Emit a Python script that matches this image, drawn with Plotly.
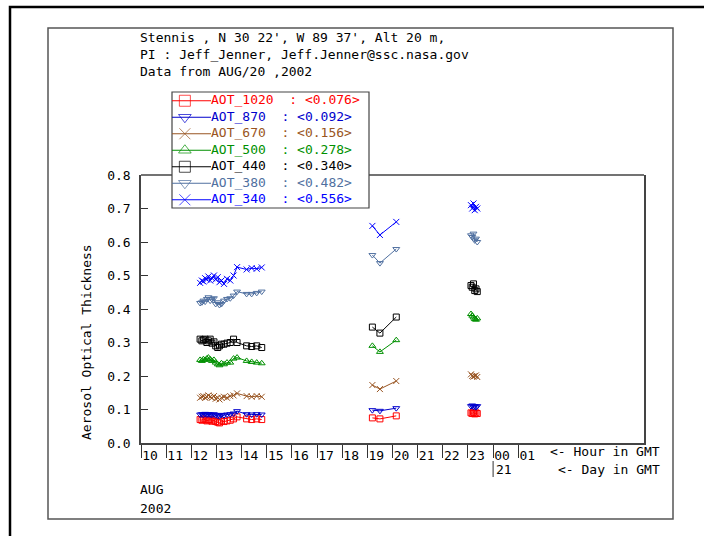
import plotly.graph_objects as go

# ---------------- data ----------------
hours_morning = [12.35, 12.42, 12.48, 12.55, 12.62, 12.68, 12.75, 12.82, 12.90, 12.97, 13.05,
                 13.12, 13.20, 13.30, 13.42, 13.55, 13.68, 13.82, 14.20, 14.40, 14.60, 14.80]
hours_afternoon = [19.20, 19.50, 20.15]
hours_evening = [23.12, 23.17, 23.22, 23.27, 23.32, 23.37]

aot_1020 = [0.070, 0.068, 0.072, 0.070, 0.066, 0.068, 0.070, 0.065, 0.068, 0.064, 0.062,
            0.060, 0.066, 0.064, 0.066, 0.068, 0.072, 0.078, 0.072, 0.070, 0.072, 0.070,
            0.075, 0.072, 0.081,
            0.090, 0.088, 0.092, 0.087, 0.090, 0.088]
aot_870 = [0.085, 0.086, 0.084, 0.087, 0.085, 0.086, 0.085, 0.084, 0.086, 0.083, 0.082,
           0.080, 0.084, 0.083, 0.085, 0.086, 0.088, 0.095, 0.086, 0.085, 0.086, 0.085,
           0.098, 0.096, 0.104,
           0.110, 0.112, 0.108, 0.110, 0.107, 0.110]
aot_670 = [0.135, 0.138, 0.140, 0.135, 0.138, 0.142, 0.138, 0.135, 0.140, 0.132, 0.135,
           0.130, 0.135, 0.138, 0.135, 0.140, 0.142, 0.148, 0.140, 0.138, 0.140, 0.138,
           0.173, 0.161, 0.185,
           0.205, 0.200, 0.198, 0.200, 0.202, 0.197]
aot_500 = [0.248, 0.245, 0.250, 0.248, 0.252, 0.255, 0.250, 0.245, 0.248, 0.240, 0.235,
           0.232, 0.238, 0.235, 0.240, 0.240, 0.252, 0.255, 0.245, 0.242, 0.240, 0.238,
           0.290, 0.272, 0.307,
           0.385, 0.380, 0.375, 0.370, 0.368, 0.372]
aot_440 = [0.310, 0.305, 0.308, 0.310, 0.300, 0.305, 0.310, 0.298, 0.302, 0.290, 0.285,
           0.290, 0.295, 0.295, 0.298, 0.300, 0.310, 0.300, 0.290, 0.288, 0.290, 0.285,
           0.346, 0.328, 0.376,
           0.470, 0.465, 0.475, 0.455, 0.460, 0.452]
aot_380 = [0.418, 0.420, 0.425, 0.422, 0.430, 0.435, 0.425, 0.430, 0.432, 0.415, 0.420,
           0.412, 0.415, 0.425, 0.430, 0.432, 0.440, 0.452, 0.445, 0.445, 0.448, 0.452,
           0.561, 0.537, 0.579,
           0.620, 0.615, 0.625, 0.605, 0.610, 0.600]
aot_340 = [0.478, 0.485, 0.482, 0.492, 0.488, 0.497, 0.485, 0.492, 0.500, 0.488, 0.495,
           0.480, 0.485, 0.475, 0.490, 0.485, 0.500, 0.525, 0.518, 0.522, 0.520, 0.524,
           0.648, 0.621, 0.660,
           0.710, 0.700, 0.715, 0.695, 0.705, 0.700]

series_names = ["AOT_1020", "AOT_870", "AOT_670", "AOT_500", "AOT_440", "AOT_380", "AOT_340"]
series_values = [aot_1020, aot_870, aot_670, aot_500, aot_440, aot_380, aot_340]
series_means = ["0.076", "0.092", "0.156", "0.278", "0.340", "0.482", "0.556"]
series_colors = ["#FF0000", "#0000CC", "#995522", "#009000", "#000000", "#5070A0", "#0000FF"]
series_symbols = ["square-open", "triangle-down-open", "x-thin-open", "triangle-up-open",
                  "square-open", "triangle-down-open", "x-thin-open"]

hour_ticks = list(range(10, 26))
hour_labels = ["10", "11", "12", "13", "14", "15", "16", "17", "18", "19", "20",
               "21", "22", "23", "00", "01"]

title_lines = ["Stennis , N 30 22', W 89 37', Alt 20 m,",
               "PI : Jeff_Jenner, Jeff.Jenner@ssc.nasa.gov",
               "Data from AUG/20 ,2002"]

# ---------------- layout helpers (page pixels -> paper fractions) ----------------
W, H = 704, 536
L, R, T, B = 141, 644, 175, 443
FONT = "DejaVu Sans Mono"
FS = 13
AXC = "#444444"


def px(x):
    return x / W


def py(y):
    return 1 - y / H


def with_gaps(vals):
    n1, n2 = len(hours_morning), len(hours_afternoon)
    return vals[:n1] + [None] + vals[n1:n1 + n2] + [None] + vals[n1 + n2:]


xs = hours_morning + [None] + hours_afternoon + [None] + hours_evening

fig = go.Figure()
for name, vals, col, sym in zip(series_names, series_values, series_colors, series_symbols):
    fig.add_trace(go.Scatter(
        x=xs, y=with_gaps(vals), mode="lines+markers", connectgaps=False, name=name,
        line=dict(color=col, width=1),
        marker=dict(symbol=sym, size=6, color=col, line=dict(color=col, width=1)),
        showlegend=False,
    ))

# ---- legend drawn on its own small axes (rows = series) ----
LEG_L, LEG_R, LEG_T, LEG_B = 172, 369, 92, 208
ROW = 16.5
SAMPLE_R = 211
for name, col, sym in zip(series_names, series_colors, series_symbols):
    fig.add_trace(go.Scatter(
        x=[0, 0.33, 1], y=[name] * 3, xaxis="x2", yaxis="y2", mode="lines+markers",
        line=dict(color=col, width=1),
        marker=dict(symbol=sym, size=[0, 11, 0], color=col, line=dict(color=col, width=1)),
        showlegend=False, hoverinfo="skip", cliponaxis=False,
    ))
legend_labels = [n + "\u00a0\u00a0: <" + m + ">" for n, m in zip(series_names, series_means)]
fig.add_trace(go.Scatter(
    x=[1] * len(series_names), y=series_names, xaxis="x2", yaxis="y2", mode="text",
    text=legend_labels, textposition="middle right",
    textfont=dict(family=FONT, size=FS, color=series_colors),
    showlegend=False, hoverinfo="skip", cliponaxis=False,
))

annotations = []
for i, line in enumerate(title_lines):
    annotations.append(dict(text=line, xref="paper", yref="paper", x=px(138), y=py(37 + 17 * i),
                            xanchor="left", yanchor="middle", showarrow=False))
annotations += [
    dict(text="&lt;- Hour in GMT", xref="paper", yref="paper", x=px(662), y=py(451),
         xanchor="right", yanchor="middle", showarrow=False),
    dict(text="&lt;- Day in GMT", xref="paper", yref="paper", x=px(662), y=py(469),
         xanchor="right", yanchor="middle", showarrow=False),
    dict(text="21", xref="x", yref="paper", x=24, y=py(469), xshift=1,
         xanchor="left", yanchor="middle", showarrow=False),
    dict(text="AUG", xref="paper", yref="paper", x=px(138), y=py(489),
         xanchor="left", yanchor="middle", showarrow=False),
    dict(text="2002", xref="paper", yref="paper", x=px(138), y=py(508),
         xanchor="left", yanchor="middle", showarrow=False),
    dict(text="Aerosol Optical Thickness", xref="paper", yref="paper", x=px(86), y=py(342),
         textangle=-90, xanchor="center", yanchor="middle", showarrow=False),
]

outer_path = "M %f,%f L %f,%f L %f,%f" % (px(10), 0, px(10), py(7), 1.0, py(7))

shapes = [
    # outer frame (only its left and top edges fall inside the page), one open path
    dict(type="path", xref="paper", yref="paper", path=outer_path,
         line=dict(color="black", width=2.5), fillcolor="rgba(0,0,0,0)", layer="below"),
    dict(type="rect", xref="paper", yref="paper", x0=px(48), x1=px(673), y0=py(28), y1=py(519),
         line=dict(color="#555555", width=1.5), layer="below"),
    # top border of the plot box (hidden behind the legend box)
    dict(type="line", xref="paper", yref="paper", x0=px(L), x1=px(R), y0=py(T), y1=py(T),
         line=dict(color=AXC, width=1.5), layer="below"),
    # legend box
    dict(type="rect", xref="paper", yref="paper", x0=px(LEG_L), x1=px(LEG_R),
         y0=py(LEG_B), y1=py(LEG_T), fillcolor="white",
         line=dict(color=AXC, width=1.2), layer="below"),
    # day tick
    dict(type="line", xref="x", yref="paper", x0=24, x1=24, y0=py(461), y1=py(477),
         line=dict(color="#333333", width=1)),
]

rows_top = LEG_T + 0.5
rows_bot = rows_top + ROW * len(series_names)

fig.update_layout(
    width=W, height=H,
    margin=dict(l=0, r=0, t=0, b=0, pad=0),
    paper_bgcolor="white", plot_bgcolor="rgba(0,0,0,0)",
    font=dict(family=FONT, size=FS, color="black"),
    showlegend=False,
    annotations=annotations, shapes=shapes,
    xaxis=dict(domain=[px(L), px(R)], range=[10, 30], tickmode="array",
               tickvals=hour_ticks, ticktext=hour_labels,
               ticks="outside", ticklen=13, tickcolor="#333333", tickwidth=1,
               ticklabelshift=9, ticklabelstandoff=-13, automargin=False,
               showline=True, linecolor=AXC, linewidth=1.5, mirror=False,
               showgrid=False, zeroline=False),
    yaxis=dict(domain=[py(B), py(T)], range=[0, 0.8], tickmode="linear", tick0=0, dtick=0.1,
               tickformat=".1f", ticks="inside", ticklen=7, tickcolor="#333333", tickwidth=1,
               ticklabelstandoff=6, automargin=False,
               showline=True, linecolor=AXC, linewidth=1.5, mirror=True,
               showgrid=False, zeroline=False),
    xaxis2=dict(domain=[px(LEG_L), px(SAMPLE_R)], range=[0, 1], anchor="y2",
                visible=False, fixedrange=True),
    yaxis2=dict(domain=[py(rows_bot), py(rows_top)], type="category",
                categoryorder="array", categoryarray=series_names,
                range=[len(series_names) - 0.5, -0.5], anchor="x2",
                visible=False, fixedrange=True),
)

fig.write_html("out.html", config={"displayModeBar": False},
               post_script="document.body.style.margin='0px';"
                           "document.body.style.overflow='hidden';"
                           "document.documentElement.style.overflow='hidden';")
